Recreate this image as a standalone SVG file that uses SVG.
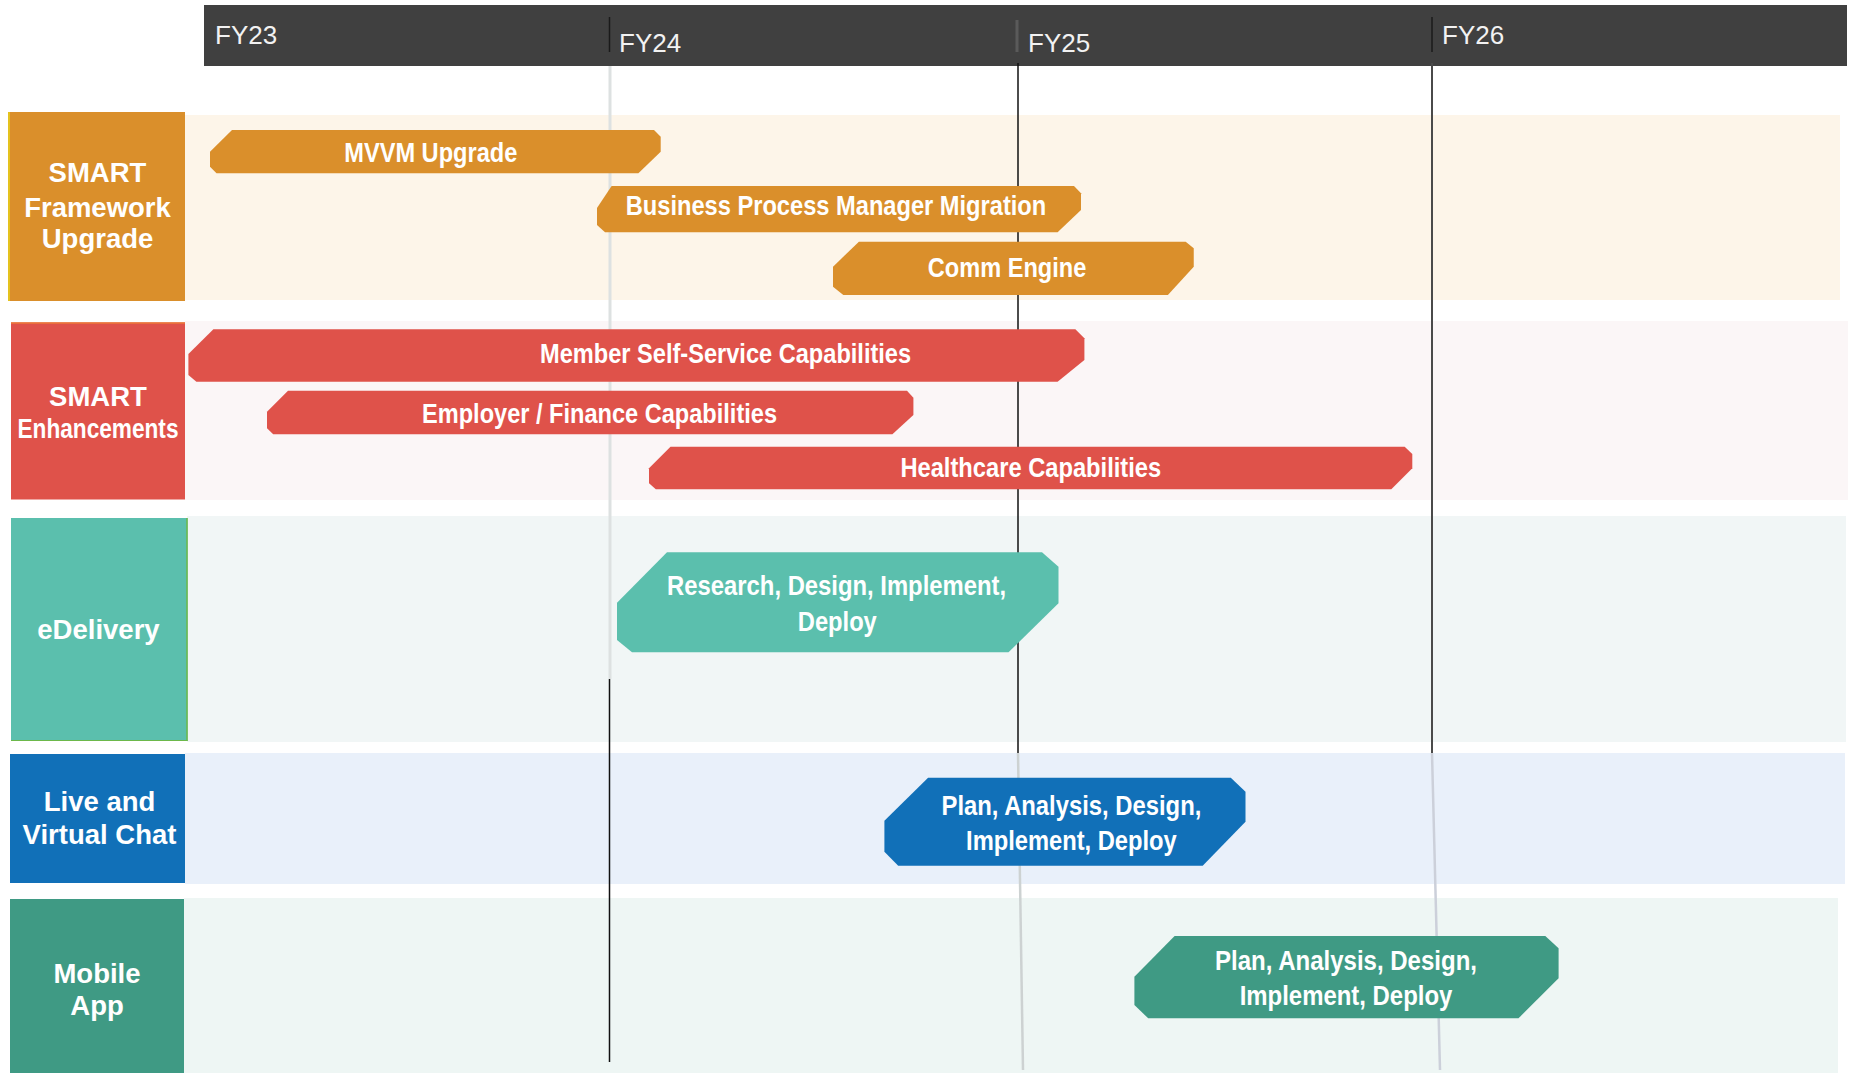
<svg xmlns="http://www.w3.org/2000/svg" width="1849" height="1073" viewBox="0 0 1849 1073">
<style>
.hdr{font-family:"Liberation Sans",Arial,sans-serif;font-size:26px;fill:#F2F2F2;}
.lbl{font-family:"Liberation Sans",Arial,sans-serif;font-weight:bold;font-size:27.5px;fill:#FFFFFF;text-anchor:middle;}
.bt{font-family:"Liberation Sans",Arial,sans-serif;font-weight:bold;font-size:28px;fill:#FFFFFF;text-anchor:middle;}
.orange{fill:#DA8F2B;}
.red{fill:#DF524A;}
.teal{fill:#5BBFAD;}
.blue{fill:#1170B8;}
.green{fill:#3F9A84;}
</style>
<rect width="1849" height="1073" fill="#FFFFFF"/>

<!-- header -->
<g id="header">
  <rect x="204" y="5" width="1643" height="61" fill="#404040"/>
  <line x1="609.5" y1="17" x2="609.5" y2="52" stroke="#1A1A1A" stroke-width="1.5"/>
  <line x1="1017" y1="20" x2="1017" y2="52" stroke="#5A5A5A" stroke-width="3"/>
  <line x1="1432" y1="17" x2="1432" y2="52" stroke="#1A1A1A" stroke-width="1.5"/>
  <text class="hdr" x="215" y="44">FY23</text>
  <text class="hdr" x="619" y="52">FY24</text>
  <text class="hdr" x="1028" y="52">FY25</text>
  <text class="hdr" x="1442" y="44">FY26</text>
</g>

<!-- lane bands -->
<g id="bands">
  <rect x="185" y="115" width="1655" height="185" fill="#FDF5E9"/>
  <rect x="185" y="321" width="1663" height="179" fill="#FBF6F7"/>
  <rect x="187" y="516" width="1659" height="226" fill="#F1F6F6"/>
  <rect x="185" y="753" width="1660" height="131" fill="#E9F0FA"/>
  <rect x="184" y="898" width="1654" height="175" fill="#EEF6F4"/>
</g>

<!-- gridlines -->
<g id="connectors">
  <line x1="610" y1="66" x2="610" y2="679" stroke="#DDE1E1" stroke-width="3"/>
  <line x1="609.5" y1="679" x2="609.5" y2="1062" stroke="#111111" stroke-width="1.5"/>
  <line x1="1018" y1="63" x2="1018" y2="753" stroke="#111111" stroke-width="1.5"/>
  <line x1="1018" y1="753" x2="1023" y2="1070" stroke="#CDD2D2" stroke-width="2.5"/>
  <line x1="1432" y1="63" x2="1432" y2="753" stroke="#4A4A4A" stroke-width="2"/>
  <line x1="1432" y1="753" x2="1440" y2="1070" stroke="#CCD0DA" stroke-width="2.5"/>
</g>

<!-- lane labels -->
<g id="lane-smart-framework">
  <rect class="orange" x="8" y="112" width="177" height="189"/>
  <line x1="9" y1="112" x2="9" y2="301" stroke="#E5C21E" stroke-width="2"/>
  <text class="lbl" x="97.5" y="181.5">SMART</text>
  <text class="lbl" x="97.5" y="216.5">Framework</text>
  <text class="lbl" x="97.5" y="248">Upgrade</text>
</g>
<g id="lane-smart-enhancements">
  <rect class="red" x="11" y="322.5" width="174" height="177"/>
  <line x1="11" y1="323" x2="185" y2="323" stroke="#EC7A3A" stroke-width="1.5"/>
  <text class="lbl" x="98" y="406">SMART</text>
  <text class="lbl" x="98" y="438.3" textLength="161" lengthAdjust="spacingAndGlyphs">Enhancements</text>
</g>
<g id="lane-edelivery">
  <rect class="teal" x="11" y="518" width="176.5" height="223"/>
  <line x1="187" y1="518" x2="187" y2="741" stroke="#6CB84A" stroke-width="1.5"/>
  <line x1="11" y1="740.5" x2="187.5" y2="740.5" stroke="#6CB84A" stroke-width="1.2"/>
  <text class="lbl" x="98.5" y="639.3">eDelivery</text>
</g>
<g id="lane-live-chat">
  <rect class="blue" x="10" y="754" width="175" height="129"/>
  <text class="lbl" x="99.5" y="811">Live and</text>
  <text class="lbl" x="99.5" y="844.3">Virtual Chat</text>
</g>
<g id="lane-mobile-app">
  <rect class="green" x="10" y="899" width="174" height="174"/>
  <text class="lbl" x="97" y="982.7">Mobile</text>
  <text class="lbl" x="97" y="1015">App</text>
</g>

<!-- bars -->
<g id="bar-mvvm">
  <polygon class="orange" points="232,130 654,130 660.7,136.7 660.7,151.7 638.4,173.3 216.5,173.3 210,166.7 210,151.7"/>
  <text class="bt" x="430.8" y="162" textLength="173" lengthAdjust="spacingAndGlyphs">MVVM Upgrade</text>
</g>
<g id="bar-bpm">
  <polygon class="orange" points="611.6,186 1074,186 1081,193.3 1081,210 1057.6,232.3 605,232.3 597,225 597,208"/>
  <text class="bt" x="836" y="215" textLength="420.5" lengthAdjust="spacingAndGlyphs">Business Process Manager Migration</text>
</g>
<g id="bar-comm">
  <polygon class="orange" points="858.9,241.7 1185.7,241.7 1193.75,248.3 1193.75,266.7 1167.9,295 843.3,295 833,286.7 833,266.7"/>
  <text class="bt" x="1007" y="276.7" textLength="158.5" lengthAdjust="spacingAndGlyphs">Comm Engine</text>
</g>
<g id="bar-member">
  <polygon class="red" points="213.4,329.3 1075.4,329.3 1084.4,338.3 1084.4,360 1057.6,381.7 196.4,381.7 188.4,375 188.4,354"/>
  <text class="bt" x="725.6" y="363.3" textLength="371" lengthAdjust="spacingAndGlyphs">Member Self-Service Capabilities</text>
</g>
<g id="bar-employer">
  <polygon class="red" points="288,390.7 907,390.7 913.4,397.7 913.4,415 892.4,434.3 273.2,434.3 267,428.3 267,411.7"/>
  <text class="bt" x="599.5" y="423.3" textLength="355" lengthAdjust="spacingAndGlyphs">Employer / Finance Capabilities</text>
</g>
<g id="bar-healthcare">
  <polygon class="red" points="670.5,446.7 1404.7,446.7 1412.3,454 1412.3,468.3 1391.3,489.3 655.8,489.3 649,483.3 649,468.3"/>
  <text class="bt" x="1030.8" y="476.7" textLength="260.8" lengthAdjust="spacingAndGlyphs">Healthcare Capabilities</text>
</g>
<g id="bar-edelivery">
  <polygon class="teal" points="667,552.3 1042,552.3 1058.5,566.7 1058.5,603.3 1008.5,652.3 632,652.3 617,640 617,602.7"/>
  <text class="bt" x="836.6" y="595" textLength="339" lengthAdjust="spacingAndGlyphs">Research, Design, Implement,</text>
  <text class="bt" x="837.3" y="630.5" textLength="79" lengthAdjust="spacingAndGlyphs">Deploy</text>
</g>
<g id="bar-live-chat">
  <polygon class="blue" points="928.1,777.7 1230.8,777.7 1245.5,791.7 1245.5,821.7 1202.7,865.7 898.2,865.7 884.4,851.7 884.4,820.7"/>
  <text class="bt" x="1071.4" y="815" textLength="259.8" lengthAdjust="spacingAndGlyphs">Plan, Analysis, Design,</text>
  <text class="bt" x="1071.4" y="850" textLength="210.7" lengthAdjust="spacingAndGlyphs">Implement, Deploy</text>
</g>
<g id="bar-mobile">
  <polygon class="green" points="1174.6,936 1545.3,936 1558.6,948.3 1558.6,978.3 1518.5,1018.3 1148.2,1018.3 1134.4,1005 1134.4,976.7"/>
  <text class="bt" x="1346" y="970" textLength="262" lengthAdjust="spacingAndGlyphs">Plan, Analysis, Design,</text>
  <text class="bt" x="1346" y="1005" textLength="212.7" lengthAdjust="spacingAndGlyphs">Implement, Deploy</text>
</g>
</svg>
